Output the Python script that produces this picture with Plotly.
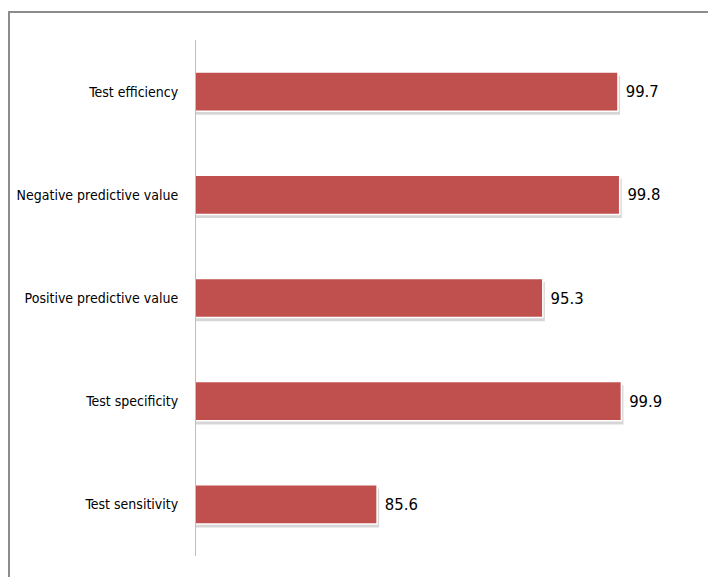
import plotly.graph_objects as go

categories = ["Test sensitivity", "Test specificity", "Positive predictive value",
              "Negative predictive value", "Test efficiency"]
values = [85.6, 99.9, 95.3, 99.8, 99.7]
labels = ["85.6", "99.9", "95.3", "99.8", "99.7"]

# page body has an 8px margin, so the figure is sized/offset accordingly
W, H = 708, 569
L, R, T, B = 188, 16, 32, 21
FONT = "Liberation Sans Narrow, DejaVu Sans Condensed, Arial Narrow, sans-serif"
BAR_W = 0.38

fig = go.Figure()
# soft drop shadow under each bar
fig.add_trace(go.Bar(
    y=categories, x=values, orientation="h",
    base=0.12,
    marker=dict(color="rgba(0,0,0,0.16)", line=dict(width=0)),
    width=BAR_W, offset=-BAR_W / 2 - 0.035,
    hoverinfo="skip",
))
fig.add_trace(go.Bar(
    y=categories, x=values, orientation="h",
    base=0,
    marker=dict(color="#C0504D", line=dict(color="#FFFFFF", width=1.5)),
    width=BAR_W, offset=-BAR_W / 2,
    text=labels, texttemplate=" %{text}", textposition="outside", cliponaxis=False,
    textfont=dict(family=FONT, size=16.5, color="#000000"),
))

pw = W - L - R
ph = H - T - B
def px(x):
    return (x - L) / pw
def py(y):
    return (H - B - y) / ph

fig.update_layout(
    width=W, height=H,
    barmode="overlay",
    margin=dict(l=L, r=R, t=T, b=B, pad=0, autoexpand=False),
    paper_bgcolor="white", plot_bgcolor="white",
    showlegend=False,
    xaxis=dict(range=[75, 104.5], visible=False, automargin=False),
    yaxis=dict(showline=True, linecolor="#BFBFBF", linewidth=1,
               showgrid=False, ticks="", ticklen=0, automargin=False,
               tickfont=dict(family=FONT, size=14, color="#000000"),
               ticklabelstandoff=14),
    shapes=[
        dict(type="line", xref="paper", yref="paper",
             x0=px(0), x1=px(W + 5), y0=py(4), y1=py(4),
             line=dict(color="#8C8C8C", width=2)),
        dict(type="line", xref="paper", yref="paper",
             x0=px(1), x1=px(1), y0=py(4), y1=py(H + 5),
             line=dict(color="#8C8C8C", width=2)),
    ],
)

fig.write_html("out.html")
